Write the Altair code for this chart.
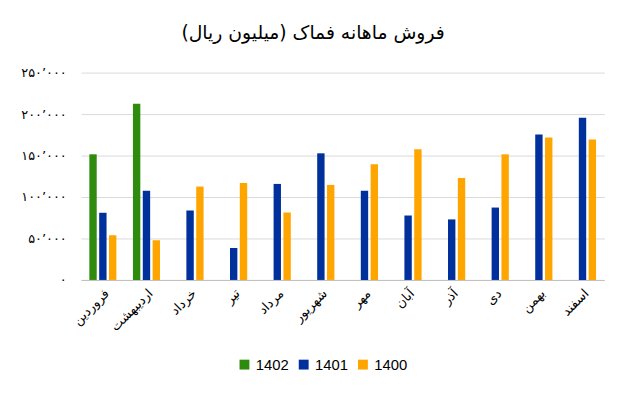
import altair as alt
import pandas as pd

months = ["فروردین", "اردیبهشت", "خرداد", "تیر", "مرداد", "شهریور",
          "مهر", "آبان", "آذر", "دی", "بهمن", "اسفند"]
years = ["1402", "1401", "1400"]
colors = ["#2e8b0e", "#00309c", "#ffa500"]

v1402 = [151500, 212600, None, None, None, None, None, None, None, None, None, None]
v1401 = [81000, 107500, 83700, 38500, 115800, 152700, 107500, 77700, 73000, 87300, 175400, 195600]
v1400 = [53900, 48000, 112600, 117000, 81300, 114600, 139600, 157500, 123000, 151500, 171800, 169400]

tick_values = [0, 50000, 100000, 150000, 200000, 250000]
tick_labels = ["۰", "۵۰٬۰۰۰", "۱۰۰٬۰۰۰", "۱۵۰٬۰۰۰", "۲۰۰٬۰۰۰", "۲۵۰٬۰۰۰"]

rows = []
for yr, vals in zip(years, [v1402, v1401, v1400]):
    for m, v in zip(months, vals):
        if v is not None:
            rows.append({"month": m, "year": yr, "value": v})
df = pd.DataFrame(rows)

label_expr = " : ".join(
    f"datum.value == {v} ? '{l}'" for v, l in zip(tick_values, tick_labels)
) + " : ''"

chart = alt.Chart(df).mark_bar().encode(
    x=alt.X("month:N", sort=months,
            scale=alt.Scale(paddingInner=0.38, paddingOuter=0.19),
            axis=alt.Axis(title=None, labelAngle=-45, labelFont="DejaVu Sans",
                          labelFontSize=13, labelColor="#000000", ticks=False,
                          domainColor="#bfbfbf", labelPadding=7)),
    xOffset=alt.XOffset("year:N", sort=years,
                        scale=alt.Scale(paddingInner=0.25, paddingOuter=0)),
    y=alt.Y("value:Q", scale=alt.Scale(domain=[0, 250000], nice=False),
            axis=alt.Axis(title=None, values=tick_values, labelExpr=label_expr,
                          labelFont="DejaVu Sans", labelFontSize=13,
                          labelColor="#000000", ticks=False, domain=False,
                          gridColor="#d9d9d9", labelPadding=15)),
    color=alt.Color("year:N", sort=years,
                    scale=alt.Scale(domain=years, range=colors),
                    legend=alt.Legend(title=None, orient="none", direction="horizontal",
                                      legendX=158, legendY=288, symbolType="square",
                                      symbolSize=100, symbolStrokeWidth=0,
                                      labelFont="Liberation Sans", labelFontSize=15,
                                      labelColor="#000000", columnPadding=7,
                                      labelOffset=4, symbolOpacity=1)),
).properties(
    width=530,
    height=210,
    autosize=alt.AutoSizeParams(type="none"),
    padding={"left": 74, "top": 63, "right": 25, "bottom": 108},
    title=alt.TitleParams("فروش ماهانه فماک (میلیون ریال)", font="DejaVu Sans",
                          fontSize=19, fontWeight="normal", color="#000000",
                          anchor="middle", dx=-30, offset=24),
).configure_view(stroke=None)

chart.save("out.html", embed_options={"renderer": "svg", "actions": False})
